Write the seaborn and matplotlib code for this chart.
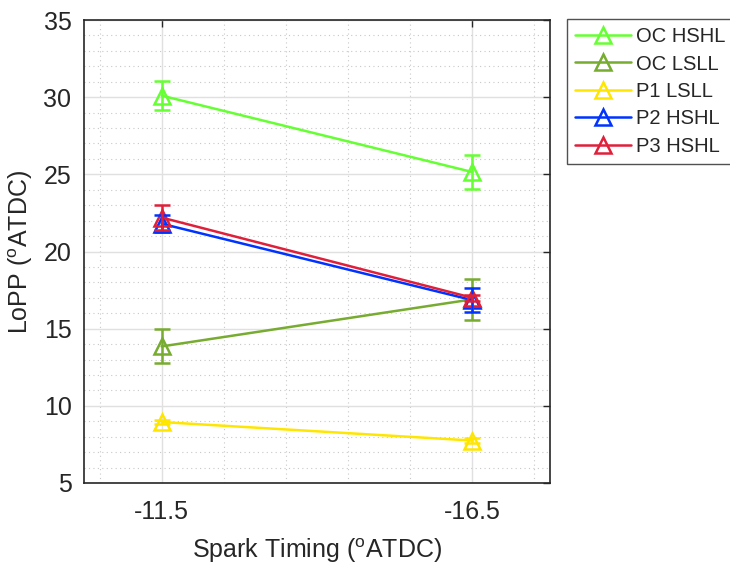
import numpy as np
import pandas as pd
import matplotlib
matplotlib.use("Agg")
import matplotlib.pyplot as plt
from matplotlib.ticker import MultipleLocator
from matplotlib.lines import Line2D
import seaborn as sns

categories = ["-11.5", "-16.5"]
series = ["OC HSHL", "OC LSLL", "P1 LSLL", "P2 HSHL", "P3 HSHL"]
oc_hshl = [30.1, 25.15]
oc_lsll = [13.85, 16.9]
p1_lsll = [8.95, 7.75]
p2_hshl = [21.8, 16.85]
p3_hshl = [22.2, 17.0]
oc_hshl_err = [0.95, 1.1]
oc_lsll_err = [1.1, 1.35]
p1_lsll_err = [0.15, 0.15]
p2_hshl_err = [0.55, 0.8]
p3_hshl_err = [0.8, 0.2]
colors = ["#66FF33", "#77AC30", "#FFE600", "#0033FF", "#E0203A"]

values = [oc_hshl, oc_lsll, p1_lsll, p2_hshl, p3_hshl]
errors = [oc_hshl_err, oc_lsll_err, p1_lsll_err, p2_hshl_err, p3_hshl_err]

sns.set_style("white")
plt.rcParams["font.family"] = ["Liberation Sans", "DejaVu Sans"]
plt.rcParams["mathtext.fontset"] = "custom"
plt.rcParams["mathtext.rm"] = "Liberation Sans"

rows = []
for s, vals in zip(series, values):
    for i, v in enumerate(vals):
        rows.append({"pos": i + 1, "LoPP": v, "series": s})
df = pd.DataFrame(rows)

fig = plt.figure(figsize=(7.3, 5.64), dpi=100)
ax = fig.add_axes([84 / 730, 1 - 483 / 564, (550 - 84) / 730, (483 - 20) / 564])

sns.lineplot(data=df, x="pos", y="LoPP", hue="series", hue_order=series,
             palette=colors, marker="^", markersize=11, markerfacecolor="none",
             markeredgewidth=1.8, linewidth=1.8, ax=ax, legend=False)
for s, vals, errs, c in zip(series, values, errors, colors):
    ax.errorbar([1, 2], vals, yerr=errs, fmt="none", ecolor=c, elinewidth=1.8,
                capsize=6, capthick=1.8, zorder=3)
for line, c in zip(ax.get_lines()[:5], colors):
    line.set_markeredgecolor(c)

ax.set_xlim(0.75, 2.25)
ax.set_ylim(5, 35)
ax.set_xticks([1, 2])
ax.set_xticklabels(categories)
ax.xaxis.set_minor_locator(MultipleLocator(0.2))
ax.yaxis.set_major_locator(MultipleLocator(5))
ax.yaxis.set_minor_locator(MultipleLocator(1))
ax.grid(True, which="major", color="#e0e0e0", linewidth=1.0)
ax.grid(True, which="minor", color="#c8c8c8", linestyle=(0, (1, 3)), linewidth=0.8)
ax.set_axisbelow(True)
ax.tick_params(which="major", direction="in", length=5, width=1, top=True, right=True,
               labelsize=18, colors="#262626", pad=9)
ax.tick_params(axis="x", which="major", pad=12)
ax.tick_params(which="minor", length=0)
for sp in ax.spines.values():
    sp.set_color("#262626")
    sp.set_linewidth(1.2)

ax.set_xlabel(r"Spark Timing ($^{\mathrm{o}}$ATDC)", fontsize=18, color="#262626", labelpad=9)
ax.set_ylabel(r"LoPP ($^{\mathrm{o}}$ATDC)", fontsize=18, color="#262626", labelpad=6)

handles = [Line2D([0], [0], color=c, marker="^", markersize=11, markerfacecolor="none",
                  markeredgewidth=1.8, linewidth=1.8) for c in colors]
leg = fig.legend(handles, series, loc="upper left", bbox_to_anchor=(567 / 730, 1 - 19 / 564),
                 fontsize=14.5, frameon=True, fancybox=False, handlelength=2.8,
                 borderpad=0.4, labelspacing=0.42, handletextpad=0.25, borderaxespad=0)
leg.get_frame().set_edgecolor("#262626")
leg.get_frame().set_linewidth(1.0)

fig.savefig("out.png", dpi=100)
